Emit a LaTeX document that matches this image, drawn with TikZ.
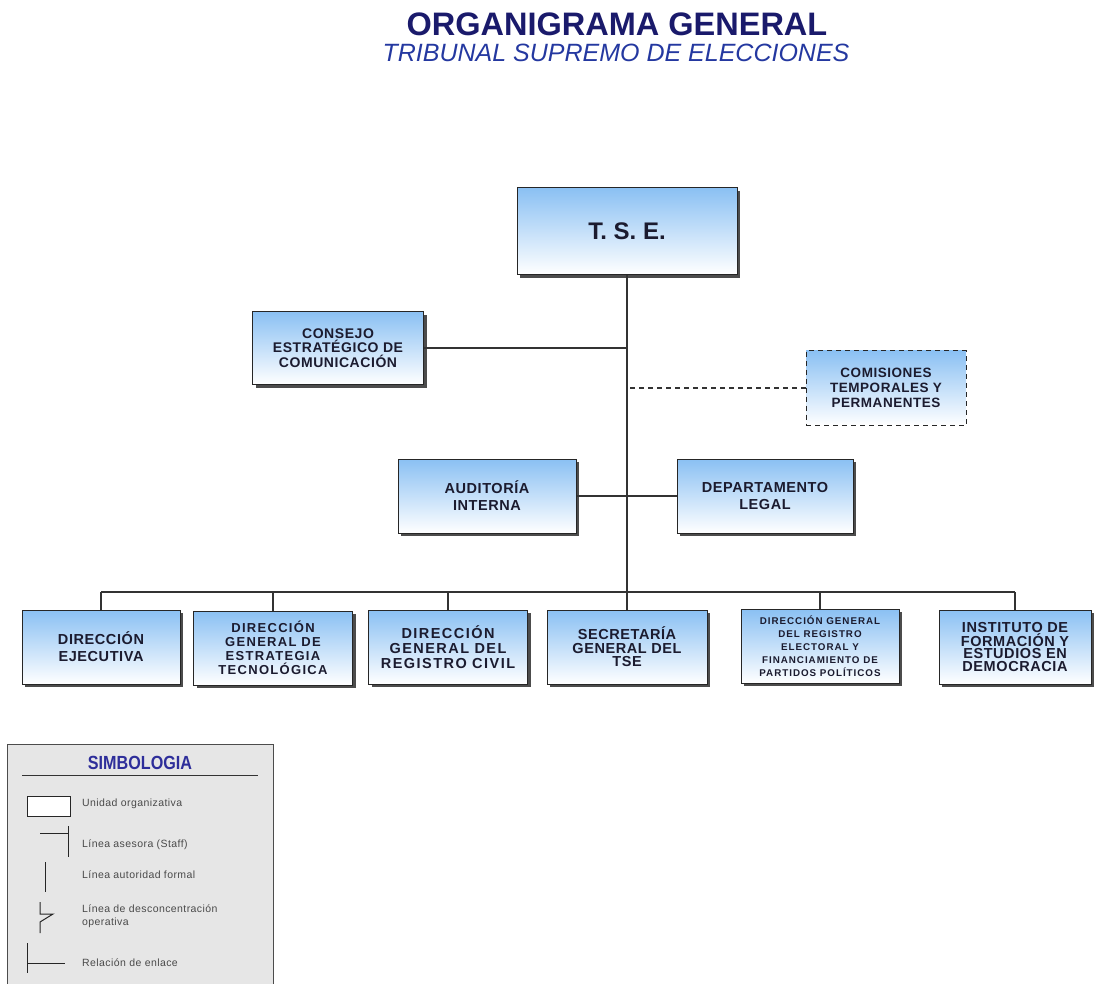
\documentclass[tikz,border=0pt]{standalone}
\usepackage{fontspec}
\setmainfont{Liberation Sans}
\newfontfamily\cajafont{Liberation Sans}[LetterSpace=4]
\newfontfamily\cajaancha{Liberation Sans}[LetterSpace=10]
\usepackage{tikz}
\usetikzlibrary{shadows}
\definecolor{tituloAzul}{HTML}{1A1A6B}
\definecolor{subtituloAzul}{HTML}{2438A0}
\definecolor{simboAzul}{HTML}{2E2E9A}
\definecolor{cielo}{HTML}{8AC0F3}
\definecolor{tinta}{HTML}{1B1B2F}
\definecolor{linea}{HTML}{333333}
\definecolor{fondoLeyenda}{HTML}{E6E6E6}
\definecolor{textoLeyenda}{HTML}{4A4A4A}
\tikzset{
  caja/.style={draw=black!85,line width=1pt,top color=cielo,bottom color=white,text=tinta,align=center,inner sep=0pt,minimum height=74pt},
  unidad/.style={caja,drop shadow={shadow xshift=3pt,shadow yshift=-3pt,fill=black!70,opacity=1}},
  comision/.style={caja,dash pattern=on 5pt off 4pt},
  conector/.style={draw=linea,line width=1.1pt},
  leyenda/.style={anchor=west,align=left,text=textoLeyenda,font=\cajafont\fontsize{10.5}{12.5}\selectfont,inner sep=0pt}
}

\begin{document}
\begin{tikzpicture}[x=1pt,y=-1pt]
\useasboundingbox (0,0) rectangle (1094,983);
\node[font=\bfseries\fontsize{32.5}{34}\selectfont,text=tituloAzul] (titulo) at (617,24) {ORGANIGRAMA GENERAL};
\node[font=\itshape\fontsize{25}{27}\selectfont,text=subtituloAzul] (subtitulo) at (616,53) {TRIBUNAL SUPREMO DE ELECCIONES};

\node[unidad,minimum width=220pt,minimum height=87pt,font=\bfseries\fontsize{24}{26}\selectfont] (tse) at (627,231) {T. S. E.};
\node[unidad,minimum width=171pt,minimum height=73pt,font=\cajafont\bfseries\fontsize{14}{14.5}\selectfont] (consejo) at (338,348) {CONSEJO\\ESTRATÉGICO DE\\COMUNICACIÓN};
\node[comision,minimum width=160pt,minimum height=75pt,font=\cajafont\bfseries\fontsize{13.5}{15}\selectfont] (comisiones) at (886,388) {COMISIONES\\TEMPORALES Y\\PERMANENTES};
\node[unidad,minimum width=178pt,font=\cajafont\bfseries\fontsize{14.5}{17}\selectfont] (auditoria) at (487,496) {AUDITORÍA\\INTERNA};
\node[unidad,minimum width=176pt,font=\cajafont\bfseries\fontsize{14.5}{17}\selectfont] (legal) at (765,496) {DEPARTAMENTO\\LEGAL};

\node[unidad,minimum width=158pt,font=\cajafont\bfseries\fontsize{14.5}{17}\selectfont] (dirEjec) at (101,647) {DIRECCIÓN\\EJECUTIVA};
\node[unidad,minimum width=159pt,font=\cajaancha\bfseries\fontsize{13}{14}\selectfont] (dirTec) at (273,648) {DIRECCIÓN\\GENERAL DE\\ESTRATEGIA\\TECNOLÓGICA};
\node[unidad,minimum width=159pt,font=\cajaancha\bfseries\fontsize{14.5}{15}\selectfont] (dirCivil) at (448,647) {DIRECCIÓN\\GENERAL DEL\\REGISTRO CIVIL};
\node[unidad,minimum width=160pt,font=\cajafont\bfseries\fontsize{14.5}{13.5}\selectfont] (secGen) at (627,647) {SECRETARÍA\\GENERAL DEL\\TSE};
\node[unidad,minimum width=158pt,font=\cajaancha\bfseries\fontsize{9.8}{13}\selectfont] (dirElect) at (820,646) {DIRECCIÓN GENERAL\\DEL REGISTRO\\ELECTORAL Y\\FINANCIAMIENTO DE\\PARTIDOS POLÍTICOS};
\node[unidad,minimum width=152pt,font=\cajafont\bfseries\fontsize{14.5}{12.5}\selectfont] (instituto) at (1015,647) {INSTITUTO DE\\FORMACIÓN Y\\ESTUDIOS EN\\DEMOCRACIA};

\coordinate (bus) at (627,592);
\draw[conector] (tse.south) -- (bus);
\draw[conector] (consejo.east) -- (consejo.east -| bus);
\draw[conector,dash pattern=on 5pt off 4pt] (comisiones.west) -- (comisiones.west -| bus);
\draw[conector] (auditoria.east) -- (legal.west);
\draw[conector] (dirEjec.north |- bus) -- (instituto.north |- bus);
\foreach \n in {dirEjec,dirTec,dirCivil,secGen,dirElect,instituto}
  \draw[conector] (\n.north |- bus) -- (\n.north);

\fill[fondoLeyenda] (7,744) rectangle (273,990);
\draw[black!70,line width=1pt] (7,990) -- (7,744) -- (273,744) -- (273,990);
\node[font=\bfseries\fontsize{19}{20}\selectfont,text=simboAzul,xscale=0.85] (leyTitulo) at (140,763) {SIMBOLOGIA};
\draw[black!80,line width=1pt] (22,775) -- (258,775);
\draw[black!85,fill=white,line width=1pt] (27,796) rectangle (70,816);
\node[leyenda] (leyUnidad) at (82,804) {Unidad organizativa};
\draw[black!85,line width=1pt] (40,833) -- (68,833) (68,826) -- (68,857);
\node[leyenda] (leyStaff) at (82,845) {Línea asesora  (Staff)};
\draw[black!85,line width=1pt] (45,862) -- (45,892);
\node[leyenda] (leyFormal) at (82,875) {Línea autoridad  formal};
\draw[black!85,line width=1pt] (40,902) -- (40,914) -- (53,914) -- (40,922) -- (40,933);
\node[leyenda] (leyDescon) at (82,916) {Línea de desconcentración\\operativa};
\draw[black!85,line width=1pt] (27,943) -- (27,973) (27,963) -- (65,963);
\node[leyenda] (leyEnlace) at (82,963) {Relación de enlace};
\end{tikzpicture}
\end{document}
